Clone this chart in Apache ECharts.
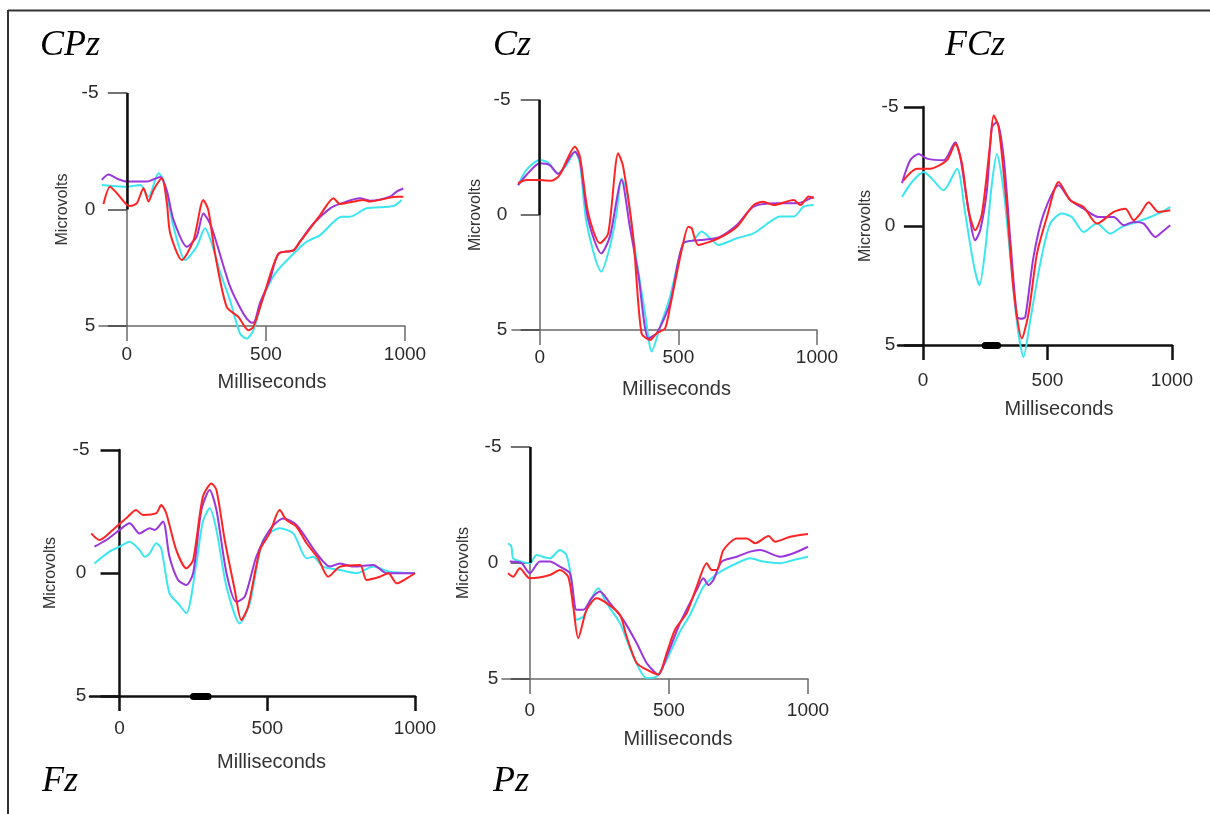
<!DOCTYPE html>
<html>
<head>
<meta charset="utf-8">
<script src="https://cdn.jsdelivr.net/npm/echarts@6/dist/echarts.min.js"></script>
<style>
html,body{margin:0;padding:0;background:#fff;}
#chart{width:1210px;height:814px;}
</style>
</head>
<body>
<div id="chart"></div>
<script>
// ---- data: [milliseconds, microvolts] ----
const panelNames = ['CPz', 'Cz', 'FCz', 'Fz', 'Pz'];
const xTicks = [0, 500, 1000];
const yTicks = [-5, 0, 5];
const blackSegY = [-5, 0];      // dark part of the y axis
const sigBar = [250, 300];      // significance bar on the x axis

const cpzCyan = [[-90,-1.05],[-36,-1.0],[0,-0.98],[48,-1.05],[78,-0.55],[114,-1.56],[132,-1.27],[168,0.74],[210,2.17],[251,1.6],[281,0.81],[305,1.45],[335,2.67],[371,3.9],[407,5.33],[431,5.54],[455,5.18],[491,3.75],[533,2.75],[599,1.9],[647,1.38],[695,1.1],[772,0.31],[802,0.31],[862,-0.05],[958,-0.15],[988,-0.41]];
const cpzPurple = [[-90,-1.27],[-66,-1.5],[-30,-1.3],[0,-1.2],[40,-1.2],[72,-1.2],[120,-1.4],[144,-0.8],[168,0.45],[216,1.6],[251,1.17],[275,0.17],[299,0.6],[323,1.45],[371,3.3],[419,4.47],[443,4.83],[455,4.86],[479,4.0],[515,3.0],[545,1.9],[599,1.75],[623,1.36],[671,0.6],[731,-0.05],[766,-0.24],[838,-0.48],[874,-0.38],[946,-0.55],[970,-0.77],[994,-0.9]];
const cpzRed = [[-84,-0.24],[-60,-0.98],[-36,-0.7],[0,-0.2],[12,-0.15],[36,-0.27],[60,-0.91],[78,-0.34],[96,-0.84],[126,-1.34],[144,-0.27],[156,1.03],[198,2.17],[240,1.31],[275,-0.41],[293,0.02],[317,1.89],[359,4.18],[401,4.61],[437,5.18],[455,5.04],[491,3.75],[545,1.9],[599,1.75],[623,1.38],[695,0.24],[743,-0.48],[766,-0.24],[850,-0.41],[874,-0.34],[970,-0.55],[994,-0.55]];

const czCyan = [[-78,-1.3],[-48,-1.96],[0,-2.39],[30,-2.28],[66,-1.81],[96,-2.17],[127,-2.75],[145,-2.25],[169,0.36],[222,2.46],[253,1.38],[277,-0.07],[295,-1.59],[313,-1.09],[349,1.96],[380,4.28],[404,5.94],[434,4.86],[470,3.55],[518,1.23],[554,1.09],[584,0.72],[645,1.3],[711,1.01],[771,0.8],[831,0.29],[867,0.07],[916,0.07],[952,-0.36],[988,-0.43]];
const czPurple = [[-78,-1.3],[-48,-1.74],[0,-2.25],[36,-2.17],[66,-1.78],[127,-2.75],[145,-2.39],[175,0.22],[222,1.67],[253,0.94],[295,-1.52],[325,0.51],[355,2.54],[392,5.36],[422,5.14],[470,3.84],[518,1.23],[578,1.09],[645,0.97],[711,0.43],[771,-0.36],[855,-0.51],[928,-0.51],[988,-0.8]];
const czRed = [[-78,-1.38],[-48,-1.52],[0,-1.52],[42,-1.49],[72,-1.74],[127,-2.97],[145,-2.54],[175,-0.07],[217,1.23],[247,0.8],[283,-2.68],[301,-2.1],[337,0.94],[367,5.14],[398,5.43],[422,5.14],[452,4.93],[470,3.99],[512,1.52],[536,0.51],[548,0.58],[572,1.3],[645,1.01],[711,0.51],[771,-0.43],[807,-0.58],[843,-0.43],[916,-0.65],[940,-0.43],[970,-0.8],[988,-0.72]];

const fczCyan = [[-84,-1.22],[-44,-1.85],[3,-2.27],[36,-1.99],[83,-1.5],[137,-2.41],[170,-0.52],[203,1.58],[227,2.49],[250,1.02],[277,-1.78],[297,-3.03],[324,-1.5],[351,1.3],[378,4.1],[404,5.5],[431,3.96],[471,1.58],[511,-0.1],[558,-0.52],[598,-0.38],[645,0.25],[699,-0.1],[752,0.32],[799,0.04],[859,-0.17],[913,-0.38],[960,-0.59],[993,-0.8]];
const fczPurple = [[-84,-1.8],[-51,-2.76],[-17,-3.03],[16,-2.83],[83,-2.76],[130,-3.52],[150,-2.9],[177,-1.08],[210,0.6],[230,0.18],[257,-1.5],[277,-4.15],[297,-4.37],[324,-2.9],[351,0.6],[378,3.82],[395,3.9],[411,3.82],[444,1.3],[485,-0.52],[545,-1.71],[592,-1.08],[645,-0.73],[705,-0.38],[766,-0.38],[806,-0.03],[846,-0.17],[886,-0.1],[933,0.46],[960,0.25],[993,-0.03]];
const fczRed = [[-78,-1.92],[-24,-2.41],[29,-2.41],[96,-2.76],[130,-3.45],[157,-2.62],[183,-0.66],[210,0.18],[237,-0.52],[270,-3.45],[284,-4.64],[304,-4.15],[337,-0.8],[364,2.7],[397,4.73],[424,3.68],[458,1.16],[498,-0.38],[545,-1.85],[592,-1.08],[645,-0.8],[699,-0.1],[766,-0.59],[813,-0.73],[846,-0.24],[873,-0.52],[906,-1.0],[946,-0.59],[993,-0.66]];

const fzCyan = [[-85,-0.39],[-34,-0.87],[0,-1.07],[34,-1.27],[68,-0.93],[85,-0.66],[102,-0.8],[124,-1.21],[141,-1.0],[169,0.83],[198,1.23],[226,1.64],[260,-0.39],[282,-2.09],[305,-2.63],[328,-1.75],[362,0.56],[407,2.05],[441,1.23],[486,-1.34],[542,-1.82],[588,-1.61],[633,-0.6],[655,-0.66],[689,-0.26],[746,-0.12],[802,0.01],[859,-0.26],[915,-0.05],[1000,0.01]];
const fzPurple = [[-85,-1.07],[-45,-1.34],[0,-1.75],[34,-2.02],[68,-1.61],[102,-1.82],[119,-1.75],[147,-2.09],[169,-0.66],[198,0.28],[226,0.49],[249,0.01],[277,-2.56],[305,-3.37],[328,-2.56],[362,0.01],[395,1.17],[424,0.96],[463,-0.66],[508,-1.75],[554,-2.22],[599,-1.95],[667,-0.8],[712,-0.26],[746,-0.39],[791,-0.26],[859,-0.33],[904,0.01],[1000,0.01]];
const fzRed = [[-96,-1.61],[-68,-1.34],[-23,-1.75],[28,-2.29],[56,-2.56],[79,-2.36],[124,-2.43],[141,-2.76],[158,-2.43],[192,-0.93],[226,-0.19],[249,-0.53],[282,-3.1],[311,-3.64],[328,-3.37],[356,-1.34],[390,0.69],[412,1.91],[435,1.37],[475,-0.93],[508,-1.61],[542,-2.56],[565,-2.15],[599,-1.88],[633,-1.21],[672,-0.6],[706,0.15],[746,-0.26],[814,-0.33],[836,0.28],[881,0.15],[910,0.01],[938,0.42],[972,0.22],[1000,0.01]];

const pzCyan = [[-78,-0.85],[-66,-0.7],[-60,-0.2],[-30,-0.06],[0,0.01],[24,-0.34],[72,-0.2],[108,-0.56],[132,-0.34],[150,0.73],[168,2.45],[192,2.31],[246,1.09],[276,1.73],[324,2.59],[372,4.03],[420,4.96],[456,4.89],[492,4.17],[540,2.95],[576,2.23],[624,1.02],[660,0.59],[696,0.3],[744,0.01],[792,-0.2],[840,-0.06],[900,0.01],[948,-0.13],[1000,-0.27]];
const pzPurple = [[-72,-0.06],[-30,0.01],[0,0.44],[36,-0.06],[72,-0.06],[108,0.16],[144,0.44],[168,2.02],[192,2.02],[222,1.52],[252,1.23],[288,1.73],[336,2.45],[384,3.45],[420,4.31],[462,4.81],[492,4.03],[540,2.59],[600,1.16],[624,0.66],[642,0.95],[660,0.73],[690,-0.06],[744,-0.27],[792,-0.49],[828,-0.56],[900,-0.27],[948,-0.42],[1000,-0.7]];
const pzRed = [[-78,0.44],[-60,0.59],[-36,0.23],[0,0.66],[72,0.52],[108,0.3],[138,0.59],[156,1.88],[174,3.24],[204,2.02],[240,1.52],[276,1.73],[324,2.23],[348,3.17],[384,4.31],[420,4.6],[462,4.81],[492,3.88],[522,2.88],[564,2.16],[600,1.02],[636,0.01],[654,0.3],[672,0.3],[696,-0.56],[744,-1.06],[780,-1.06],[810,-0.85],[858,-1.16],[882,-0.92],[936,-1.13],[1000,-1.25]];

const panelData = {
  CPz: [cpzCyan, cpzPurple, cpzRed],
  Cz:  [czCyan, czPurple, czRed],
  FCz: [fczCyan, fczPurple, fczRed],
  Fz:  [fzCyan, fzPurple, fzRed],
  Pz:  [pzCyan, pzPurple, pzRed]
};

// ---- layout / style ----
const seriesColors = ['#3ce6ee', '#9a36dc', '#ff2424'];
const layout = {
  CPz: {left: 99,  top: 93,  width: 306, height: 233, dark: false, lblM: 19, nameGap: 46, nameShift: 40, yM: 9,  yNameGap: 28, tx: 40,  ty: 46},
  Cz:  {left: 512, top: 100, width: 305, height: 230, dark: false, lblM: 18, nameGap: 49, nameShift: 24, yM: 10, yNameGap: 28, tx: 493, ty: 46},
  FCz: {left: 898, top: 107, width: 274, height: 238, dark: true,  lblM: 26, nameGap: 54, nameShift: 48, yM: 8,  yNameGap: 24, tx: 945, ty: 46},
  Fz:  {left: 90,  top: 450, width: 325, height: 246, dark: true,  lblM: 23, nameGap: 56, nameShift: 38, yM: 9,  yNameGap: 31, tx: 42,  ty: 782},
  Pz:  {left: 502, top: 447, width: 306, height: 232, dark: false, lblM: 22, nameGap: 50, nameShift: 46, yM: 9,  yNameGap: 30, tx: 493, ty: 782}
};

const grids = [], xAxes = [], yAxes = [], series = [], graphics = [];
panelNames.forEach((p, i) => {
  const L = layout[p];
  const axisCol = L.dark ? '#111' : '#6a6a6a';
  const axisW = L.dark ? 2.5 : 1.5;
  grids.push({left: L.left, top: L.top, width: L.width, height: L.height});
  xAxes.push({
    type: 'value', gridIndex: i, min: -100, max: 1000,
    axisLine: {onZero: false, lineStyle: {color: axisCol, width: axisW}},
    axisTick: {show: true, customValues: xTicks, length: 15, lineStyle: {color: axisCol, width: axisW}},
    axisLabel: {customValues: xTicks, margin: L.lblM, color: '#2a2a2a', fontSize: 19, fontFamily: 'Liberation Sans',
      formatter: v => String(v)},
    splitLine: {show: false},
    name: 'Milliseconds', nameLocation: 'middle', nameGap: L.nameGap,
    nameTextStyle: {color: '#333', fontSize: 20, fontFamily: 'Liberation Sans', padding: [0, 0, 0, L.nameShift]}
  });
  yAxes.push({
    type: 'value', gridIndex: i, inverse: true, min: -5, max: 5, interval: 5,
    axisLine: {onZero: true, lineStyle: {color: axisCol, width: axisW}},
    axisTick: {show: true, length: 19, lineStyle: {color: L.dark ? '#111' : '#444', width: axisW}},
    axisLabel: {margin: L.yM, align: 'center', color: '#2a2a2a', fontSize: 19, fontFamily: 'Liberation Sans',
      customValues: yTicks, showMinLabel: true, showMaxLabel: true, formatter: v => String(v)},
    splitLine: {show: false},
    name: 'Microvolts', nameLocation: 'middle', nameGap: L.yNameGap,
    nameTextStyle: {color: '#333', fontSize: 16, fontFamily: 'Liberation Sans'}
  });
  panelData[p].forEach((d, k) => {
    const s = {
      type: 'line', xAxisIndex: i, yAxisIndex: i, data: d, showSymbol: false, smooth: 0.25, clip: false,
      lineStyle: {color: seriesColors[k], width: 2}, z: 3 + k, silent: true
    };
    if (k === 0) {
      const mlData = [];
      if (!L.dark) {
        mlData.push([{coord: [0, blackSegY[0]]}, {coord: [0, blackSegY[1]]}]);
      } else {
        mlData.push([{coord: [sigBar[0], 5], lineStyle: {width: 7, color: '#000', cap: 'round'}}, {coord: [sigBar[1], 5]}]);
      }
      s.markLine = {silent: true, symbol: ['none', 'none'], animation: false, label: {show: false},
        lineStyle: {type: 'solid', color: '#111', width: 2.5}, data: mlData};
    }
    series.push(s);
  });
  graphics.push({
    type: 'text', x: L.tx, y: L.ty,
    style: {text: p, font: 'italic 36px "Liberation Serif"', fill: '#000', verticalAlign: 'middle', align: 'left'}
  });
});

// frame lines (top and left)
graphics.push({type: 'line', shape: {x1: 8, y1: 10.5, x2: 1210, y2: 10.5}, style: {stroke: '#333', lineWidth: 2}});
graphics.push({type: 'line', shape: {x1: 8, y1: 10, x2: 8, y2: 814}, style: {stroke: '#333', lineWidth: 2}});

const chart = echarts.init(document.getElementById('chart'), null, {renderer: 'canvas'});
chart.setOption({
  animation: false,
  backgroundColor: '#fff',
  grid: grids, xAxis: xAxes, yAxis: yAxes, series: series, graphic: graphics
});
</script>
</body>
</html>
